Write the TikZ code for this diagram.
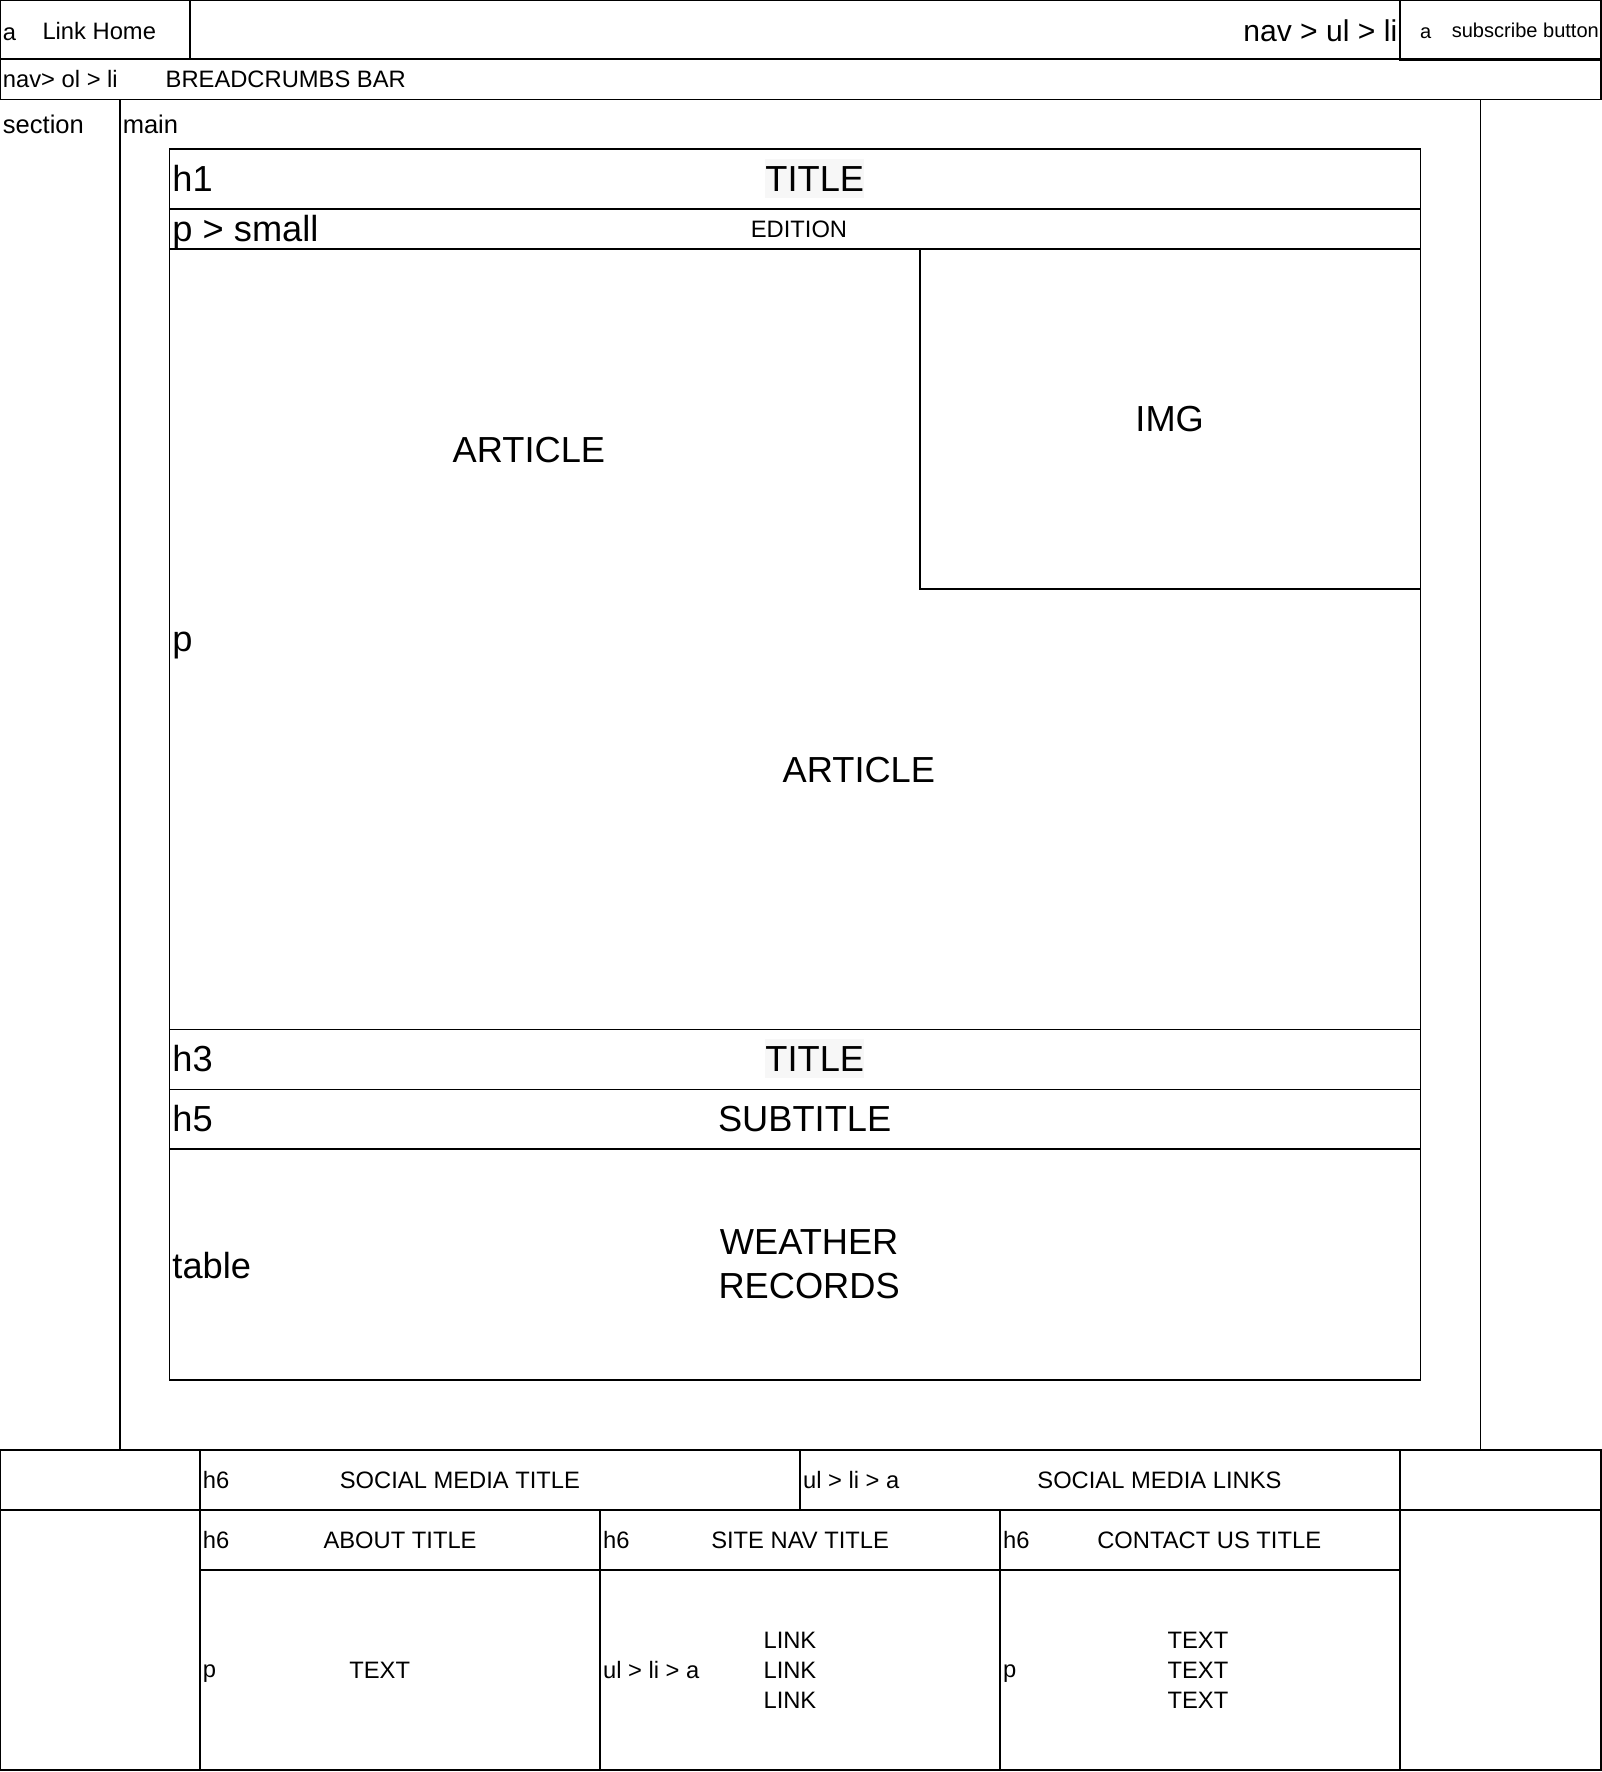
\documentclass[tikz,border=0pt]{standalone}
\usepackage{fontspec}
\setmainfont{Liberation Sans}

\tikzset{
  box/.style={draw=black,line width=0.5pt},
  tag/.style={anchor=west,inner sep=0pt,font=\fontsize{6.75}{8}\selectfont},
  tagsub/.style={anchor=west,inner sep=0pt,font=\fontsize{5.7}{7}\selectfont},
  tagnav/.style={anchor=east,inner sep=0pt,font=\fontsize{8.55}{10}\selectfont},
  tagmid/.style={anchor=west,inner sep=0pt,font=\fontsize{7.26}{9}\selectfont},
  tagbig/.style={anchor=west,inner sep=0pt,font=\fontsize{10.3}{12}\selectfont},
  txt/.style={inner sep=0pt,align=center,font=\fontsize{6.75}{8.5}\selectfont},
  txtbig/.style={inner sep=0pt,align=center,font=\fontsize{10.3}{12.5}\selectfont},
  titlebg/.style={txtbig,fill=gray!6,inner ysep=2pt}
}

\begin{document}
\begin{tikzpicture}[x=0.011298cm,y=-0.011298cm]
    \useasboundingbox (0,0) rectangle (1417,1568);

    % header
    \draw[box] (0,0) rectangle (168,52);
    \draw[box] (168,0) rectangle (1239,52);
    \draw[box] (1239,0) rectangle (1417,53);
    \draw[box] (0,52) rectangle (1417,88); % breadcrumbs

    \node[tag] (alink) at (2,30) {a};
    \node[tag] (linkhome) at (37,27) {Link Home};
    \node[tagnav] (navul) at (1237,27) {nav > ul > li};
    \node[tagsub] (asub) at (1256,29) {a};
    \node[tagsub] (subscribe) at (1284,27) {subscribe button};
    \node[tag] (navol) at (2,70) {nav> ol > li};
    \node[tag] (crumbs) at (146,70) {BREADCRUMBS BAR};

    % section / main
    \node[tagmid] (section) at (2,110) {section};
    \node[tagmid] (main) at (108,110) {main};
    \draw[box] (106,88) rectangle (1310,1283);

    \draw[box] (150,132) rectangle (1257,185); % h1
    \draw[box] (150,185) rectangle (1257,220); % p > small
    \draw[box] (150,220) rectangle (1257,911); % p
    \draw[box] (814,220) rectangle (1257,521); % img
    \draw[box] (150,911) rectangle (1257,964); % h3
    \draw[box] (150,964) rectangle (1257,1017); % h5
    \draw[box] (150,1017) rectangle (1257,1221); % table

    \node[tagbig] (h1) at (152,158) {h1};
    \node[titlebg] (title) at (721,158) {TITLE};
    \node[tagbig] (psmall) at (152,205) {p > small};
    \node[txt] (edition) at (707,203) {EDITION};
    \node[txtbig] (article) at (468,398) {ARTICLE};
    \node[txtbig] (img) at (1035,371) {IMG};
    \node[tagbig] (p) at (152,571) {p};
    \node[txtbig] (articleb) at (760,681) {ARTICLE};
    \node[tagbig] (h3) at (152,937) {h3};
    \node[titlebg] (titleb) at (721,937) {TITLE};
    \node[tagbig] (h5) at (152,990) {h5};
    \node[txtbig] (subtitle) at (712,990) {SUBTITLE};
    \node[tagbig] (table) at (152,1120) {table};
    \node[txtbig] (weather) at (716,1119) {WEATHER\\RECORDS};

    % footer
    \draw[box] (0,1283) rectangle (177,1336);
    \draw[box] (177,1283) rectangle (708,1336);
    \draw[box] (708,1283) rectangle (1239,1336);
    \draw[box] (1239,1283) rectangle (1417,1336);
    \draw[box] (0,1336) rectangle (177,1566);
    \draw[box] (1239,1336) rectangle (1417,1566);
    \foreach \x in {177,531,885} {
        \draw[box] (\x,1336) rectangle ++(354,53);
        \draw[box] (\x,1389) rectangle ++(354,177);
    }

    \node[tag] (h6social) at (179,1310) {h6};
    \node[txt] (socialtitle) at (407,1310) {SOCIAL MEDIA TITLE};
    \node[tag] (ulsocial) at (710,1310) {ul > li > a};
    \node[txt] (sociallinks) at (1026,1310) {SOCIAL MEDIA LINKS};

    \node[tag] (h6about) at (179,1363) {h6};
    \node[txt] (abouttitle) at (354,1363) {ABOUT TITLE};
    \node[tag] (h6nav) at (533,1363) {h6};
    \node[txt] (navtitle) at (708,1363) {SITE NAV TITLE};
    \node[tag] (h6contact) at (887,1363) {h6};
    \node[txt] (contacttitle) at (1070,1363) {CONTACT US TITLE};

    \node[tag] (pabout) at (179,1481) {p};
    \node[txt] (abouttext) at (336,1478) {TEXT};
    \node[tag] (ulnav) at (533,1478) {ul > li > a};
    \node[txt] (navlinks) at (699,1478) {LINK\\LINK\\LINK};
    \node[tag] (pcontact) at (887,1481) {p};
    \node[txt] (contacttext) at (1060,1478) {TEXT\\TEXT\\TEXT};
\end{tikzpicture}
\end{document}
